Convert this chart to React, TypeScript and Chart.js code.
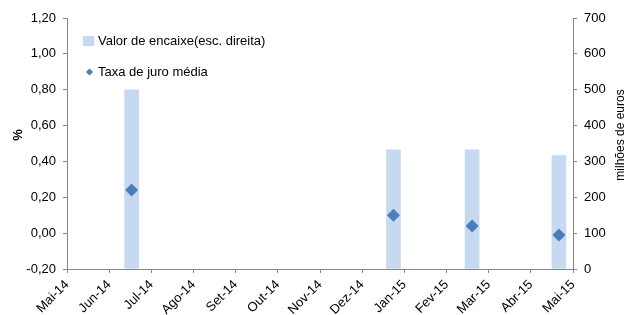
import { useEffect, useRef } from "react";
import { Chart, registerables } from "chart.js";

Chart.register(...registerables);

const monthLabels = [
  "Mai-14", "Jun-14", "Jul-14", "Ago-14", "Set-14", "Out-14", "Nov-14",
  "Dez-14", "Jan-15", "Fev-15", "Mar-15", "Abr-15", "Mai-15",
];
const auctionDates = ["2014-06-17", "2014-12-24", "2015-02-18", "2015-04-21"];
const auctionAmounts = [500, 332, 332, 316];
const averageRates = [0.24, 0.1, 0.04, -0.01];

const barLabel = "Valor de encaixe(esc. direita)";
const pointLabel = "Taxa de juro média";
const leftTitle = "%";
const rightTitle = "milhões de euros";

const BAR_COLOR = "#C6D9F1";
const POINT_COLOR = "#4A7EBB";
const AXIS_COLOR = "#878787";
const FONT = "'Liberation Sans', Arial, sans-serif";
const FS = 13;

const toMonthPos = (s: string) => {
  const [y, m, d] = s.split("-").map(Number);
  const dim = new Date(y, m, 0).getDate();
  return (y - 2014) * 12 + (m - 5) + (d - 1) / dim;
};

const fmtPct = (v: number) => {
  let r = Math.round(v * 100) / 100;
  if (Object.is(r, -0) || Math.abs(r) < 1e-9) r = 0;
  return r.toFixed(2).replace(".", ",");
};

const overlayPlugin = {
  id: "overlay",
  afterDraw(chart: any) {
    const { ctx, chartArea } = chart;
    ctx.save();
    ctx.font = `${FS}px ${FONT}`;
    ctx.fillStyle = "#000";
    ctx.textBaseline = "middle";
    ctx.textAlign = "left";
    const lx = chartArea.left + 16;
    const ly1 = chartArea.top + 23;
    const ly2 = chartArea.top + 54;
    ctx.fillStyle = BAR_COLOR;
    ctx.fillRect(lx, ly1 - 5, 11, 10);
    ctx.fillStyle = "#000";
    ctx.fillText(barLabel, lx + 15, ly1);
    ctx.fillStyle = POINT_COLOR;
    ctx.beginPath();
    const dx = lx + 6.5;
    ctx.moveTo(dx, ly2 - 3.5);
    ctx.lineTo(dx + 3.5, ly2);
    ctx.lineTo(dx, ly2 + 3.5);
    ctx.lineTo(dx - 3.5, ly2);
    ctx.closePath();
    ctx.fill();
    ctx.fillStyle = "#000";
    ctx.fillText(pointLabel, lx + 15, ly2);

    const cy = chartArea.top + 117;
    ctx.textAlign = "center";
    ctx.save();
    ctx.translate(18, cy);
    ctx.rotate(-Math.PI / 2);
    ctx.font = `bold ${FS}px ${FONT}`;
    ctx.fillText(leftTitle, 0, 0);
    ctx.restore();
    ctx.save();
    ctx.translate(chart.width - 6, cy);
    ctx.rotate(-Math.PI / 2);
    ctx.font = `12px ${FONT}`;
    ctx.fillText(rightTitle, 0, 0);
    ctx.restore();
    ctx.restore();
  },
};

export default function App() {
  const ref = useRef<HTMLCanvasElement | null>(null);

  useEffect(() => {
    if (!ref.current) return;
    const xs = auctionDates.map(toMonthPos);
    const chart = new Chart(ref.current, {
      type: "bar",
      data: {
        datasets: [
          {
            type: "scatter" as any,
            label: pointLabel,
            data: xs.map((x, i) => ({ x, y: averageRates[i] })),
            yAxisID: "y",
            backgroundColor: POINT_COLOR,
            borderColor: POINT_COLOR,
            pointStyle: "rectRot",
            pointRadius: 6.5,
            pointBorderWidth: 0,
            showLine: false,
            order: 0,
          } as any,
          {
            type: "bar",
            label: barLabel,
            data: xs.map((x, i) => ({ x, y: auctionAmounts[i] })) as any,
            yAxisID: "y2",
            backgroundColor: BAR_COLOR,
            borderWidth: 0,
            barThickness: 14,
            order: 1,
          },
        ],
      },
      options: {
        responsive: false,
        animation: false,
        devicePixelRatio: 1,
        layout: { padding: { top: 18, left: 0, right: 0, bottom: 0 } },
        plugins: {
          legend: { display: false },
          tooltip: { enabled: false },
          title: { display: false },
        },
        scales: {
          x: {
            type: "linear",
            min: 0,
            max: 12,
            offset: false,
            afterFit: (s: any) => {
              s.height = 46;
            },
            afterBuildTicks: (s: any) => {
              s.ticks = monthLabels.map((_, i) => ({ value: i }));
            },
            ticks: {
              stepSize: 1,
              minRotation: 45,
              maxRotation: 45,
              autoSkip: false,
              padding: 4,
              color: "#000",
              font: { family: FONT, size: FS },
              callback: (v: any) => monthLabels[Math.round(Number(v))] ?? "",
            },
            grid: {
              display: true,
              drawOnChartArea: false,
              drawTicks: true,
              tickLength: 4,
              color: AXIS_COLOR,
              offset: false,
            },
            border: { display: true, color: AXIS_COLOR, width: 1 },
          },
          y: {
            type: "linear",
            position: "left",
            min: -0.2,
            max: 1.2,
            afterFit: (s: any) => {
              s.width = 67;
            },
            ticks: {
              stepSize: 0.2,
              padding: 7,
              color: "#000",
              font: { family: FONT, size: FS },
              callback: (v: any) => fmtPct(Number(v)),
            },
            grid: {
              display: true,
              drawOnChartArea: false,
              tickLength: 4,
              color: AXIS_COLOR,
            },
            border: { display: true, color: AXIS_COLOR, width: 1 },
          },
          y2: {
            type: "linear",
            position: "right",
            min: 0,
            max: 700,
            afterFit: (s: any) => {
              s.width = 54;
            },
            ticks: {
              stepSize: 100,
              padding: 7,
              color: "#000",
              font: { family: FONT, size: FS },
            },
            grid: {
              display: true,
              drawOnChartArea: false,
              tickLength: 4,
              color: AXIS_COLOR,
            },
            border: { display: true, color: AXIS_COLOR, width: 1 },
          },
        },
      },
      plugins: [overlayPlugin],
    });
    return () => chart.destroy();
  }, []);

  return (
    <div style={{ position: "absolute", left: 0, top: 0, width: 627, height: 315, background: "#fff" }}>
      <canvas ref={ref} width={627} height={315} style={{ display: "block", width: 627, height: 315 }} />
    </div>
  );
}
